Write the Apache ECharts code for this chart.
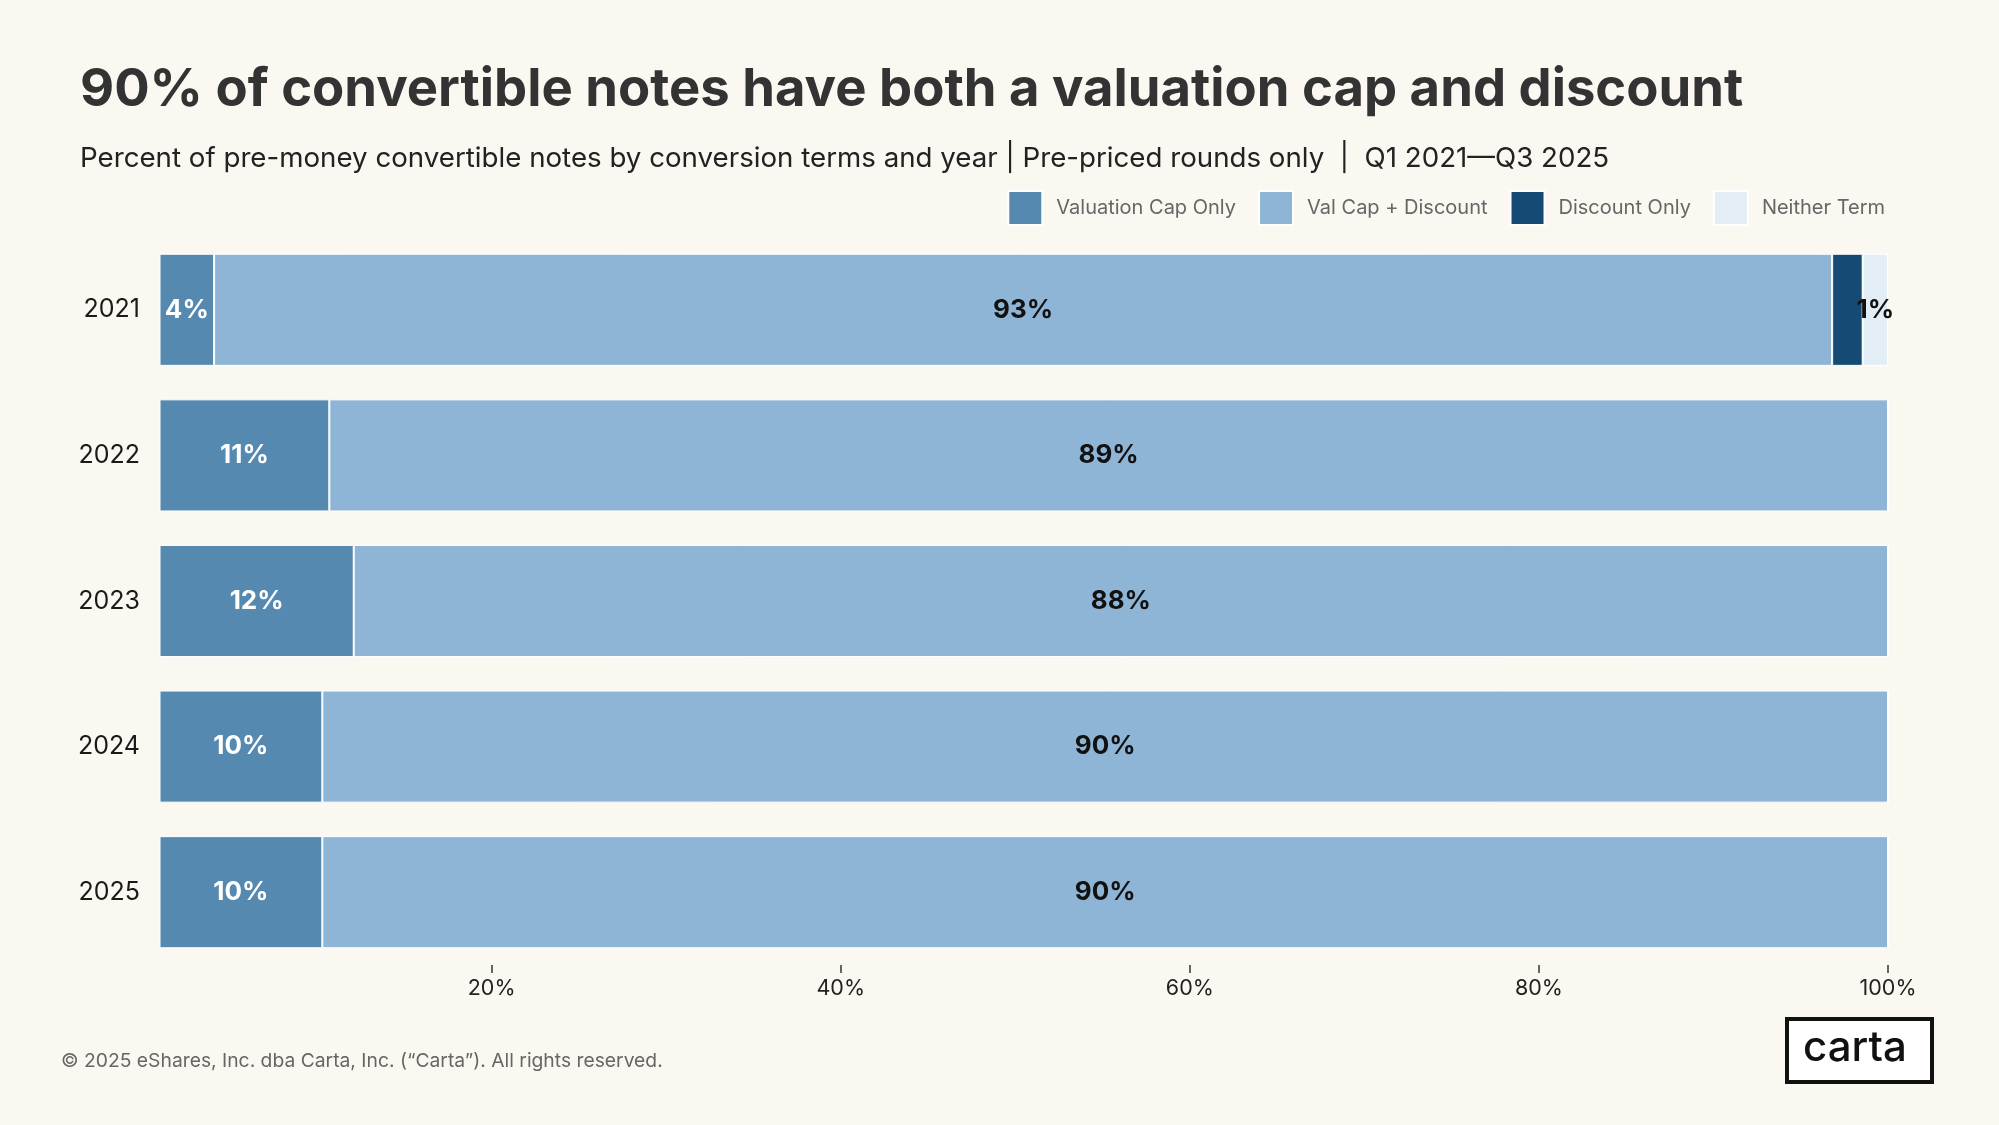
<!DOCTYPE html>
<html>
<head>
<meta charset="utf-8">
<script src="https://cdn.jsdelivr.net/npm/echarts@6/dist/echarts.min.js"></script>
<style>
  html, body { margin: 0; padding: 0; background: #fbf8f2; }
  #main { width: 1999px; height: 1125px; }
</style>
</head>
<body>
<div id="main"></div>
<script>
//----------- Data
const years = ["2021", "2022", "2023", "2024", "2025"];
const seriesNames = ["Valuation Cap Only", "Val Cap + Discount", "Discount Only", "Neither Term"];
const capOnly = [4.1, 10.7, 12.1, 10.3, 10.3];
const capDiscount = [92.7, 89.3, 87.9, 89.7, 89.7];
const discountOnly = [1.75, 0, 0, 0, 0];
const neitherTerm = [1.45, 0, 0, 0, 0];
const tickValues = [20, 40, 60, 80, 100];
//----------- Data

const colors = ["#5589b0", "#8eb5d6", "#144a74", "#e2edf5"];
const labelColors = ["#ffffff", "#111111", "#111111", "#111111"];
const showLabel = [true, true, false, true];
const font = "Inter";

const myChart = echarts.init(document.getElementById("main"));

const allValues = [capOnly, capDiscount, discountOnly, neitherTerm];

const series = allValues.map((values, i) => ({
    name: seriesNames[i],
    type: "bar",
    stack: "total",
    barCategoryGap: "23%",
    itemStyle: {
        color: colors[i],
        borderColor: "#ffffff",
        borderWidth: 1
    },
    label: {
        show: showLabel[i],
        position: "inside",
        color: labelColors[i],
        fontFamily: font,
        fontWeight: "bold",
        fontSize: 26,
        formatter: p => p.value > 0 ? `${Math.round(p.value)}%` : ""
    },
    emphasis: { disabled: true },
    data: values
}));

const option = {
    backgroundColor: "#fbf8f2",
    animation: false,
    title: [
        {
            text: "90% of convertible notes have both a valuation cap and discount",
            left: 75,
            top: 59,
            textStyle: { fontFamily: font, fontWeight: "bold", fontSize: 52.6, color: "#333333" }
        },
        {
            text: "Percent of pre-money convertible notes by conversion terms and year | Pre-priced rounds only  |  Q1 2021\u2014Q3 2025",
            left: 75,
            top: 140,
            textStyle: { fontFamily: font, fontWeight: "normal", fontSize: 27.7, color: "#222222" }
        },
        {
            text: "\u00a9 2025 eShares, Inc. dba Carta, Inc. (\u201cCarta\u201d). All rights reserved.",
            left: 56,
            top: 1047,
            textStyle: { fontFamily: font, fontWeight: "normal", fontSize: 19.3, color: "#666666" }
        }
    ],
    legend: {
        right: 109,
        top: 185,
        icon: "rect",
        itemWidth: 34,
        itemHeight: 34,
        itemGap: 22,
        selectedMode: false,
        textStyle: { fontFamily: font, fontSize: 20, color: "#666666", padding: [0, 0, 0, 9] },
        data: seriesNames
    },
    grid: {
        left: 160,
        right: 111,
        top: 237,
        height: 728,
        containLabel: false
    },
    xAxis: {
        type: "value",
        min: 1,
        max: 100,
        axisLine: { show: false },
        splitLine: { show: false },
        axisTick: {
            show: true,
            length: 8,
            customValues: tickValues,
            lineStyle: { color: "#333333", width: 1.5 }
        },
        axisLabel: {
            customValues: tickValues,
            formatter: "{value}%",
            margin: 13,
            fontFamily: font,
            fontSize: 21.5,
            color: "#222222"
        }
    },
    yAxis: {
        type: "category",
        inverse: true,
        data: years,
        axisLine: { show: false },
        axisTick: { show: false },
        axisLabel: {
            margin: 20,
            fontFamily: font,
            fontSize: 25,
            color: "#1a1a1a"
        }
    },
    graphic: [
        {
            type: "rect",
            left: 1785,
            top: 1017,
            shape: { width: 145, height: 63 },
            style: { fill: "#ffffff", stroke: "#111111", lineWidth: 4 }
        },
        {
            type: "text",
            left: 1803,
            top: 1027,
            style: {
                text: "carta",
                fontFamily: font,
                fontSize: 42,
                fontWeight: 500,
                fill: "#111111"
            }
        }
    ],
    series: series
};

myChart.setOption(option);
</script>
</body>
</html>
